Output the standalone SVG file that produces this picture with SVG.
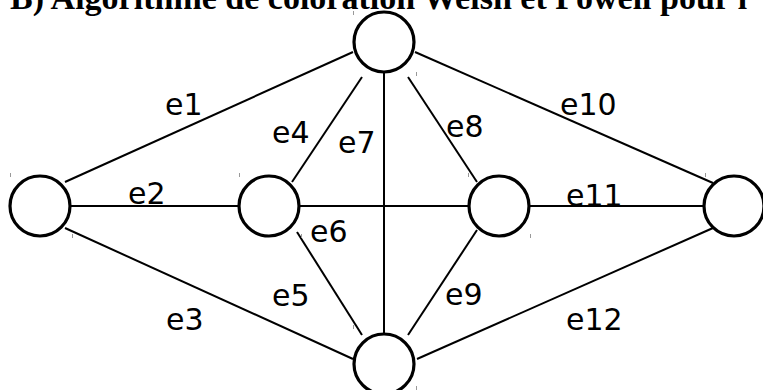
<svg xmlns="http://www.w3.org/2000/svg" width="763" height="390" viewBox="0 0 763 390">
<style>
.title{font-family:"Liberation Serif","Times New Roman",serif;font-weight:bold;font-size:34px;fill:#000}
.lbl{font-family:"DejaVu Sans","Liberation Sans",sans-serif;font-size:30px;fill:#000}
.edge{stroke:#000;stroke-width:2;fill:none}
.node{fill:#fff;stroke:#000;stroke-width:3.2}
.tick{stroke:#999;stroke-width:1}
</style>
<rect width="763" height="390" fill="#fff"/>
<text class="title" x="10" y="9">B) Algorithme de coloration Welsh et Powell pour l</text>
<g id="connectors">
<line class="edge" x1="65" y1="182" x2="353" y2="52"/>
<line class="edge" x1="71" y1="206" x2="238" y2="206"/>
<line class="edge" x1="65" y1="228" x2="353" y2="359"/>
<line class="edge" x1="292" y1="182" x2="362" y2="77"/>
<line class="edge" x1="297" y1="232" x2="362" y2="335"/>
<line class="edge" x1="300" y1="206" x2="468" y2="206"/>
<line class="edge" x1="384" y1="73" x2="384" y2="333"/>
<line class="edge" x1="408" y1="77" x2="477" y2="182"/>
<line class="edge" x1="477" y1="230" x2="408" y2="335"/>
<line class="edge" x1="415" y1="52" x2="713" y2="183"/>
<line class="edge" x1="530" y1="206" x2="703" y2="206"/>
<line class="edge" x1="417" y1="359" x2="713" y2="228"/>
<text class="lbl" x="165" y="115">e1</text>
<text class="lbl" x="128" y="204">e2</text>
<text class="lbl" x="166" y="330">e3</text>
<text class="lbl" x="272" y="143">e4</text>
<text class="lbl" x="272" y="306">e5</text>
<text class="lbl" x="310" y="242">e6</text>
<text class="lbl" x="338" y="153">e7</text>
<text class="lbl" x="446" y="137">e8</text>
<text class="lbl" x="445" y="305">e9</text>
<text class="lbl" x="560" y="115">e10</text>
<text class="lbl" x="566" y="206">e11</text>
<text class="lbl" x="566" y="330">e12</text>
</g>
<g id="n-left"><circle class="node" cx="40" cy="206" r="30"/></g>
<g id="n-midleft"><circle class="node" cx="269" cy="206" r="30"/></g>
<g id="n-midright"><circle class="node" cx="499" cy="206" r="30"/></g>
<g id="n-right"><circle class="node" cx="734" cy="206" r="30"/></g>
<g id="n-top"><circle class="node" cx="384" cy="42" r="30"/></g>
<g id="n-bottom"><circle class="node" cx="384" cy="364" r="30"/></g>
<g id="marks">
<line class="tick" x1="10.5" y1="173" x2="10.5" y2="177"/>
<line class="tick" x1="72.5" y1="234" x2="72.5" y2="238"/>
<line class="tick" x1="239.5" y1="173" x2="239.5" y2="177"/>
<line class="tick" x1="301.5" y1="234" x2="301.5" y2="238"/>
<line class="tick" x1="468.5" y1="173" x2="468.5" y2="177"/>
<line class="tick" x1="530.5" y1="234" x2="530.5" y2="238"/>
<line class="tick" x1="705.5" y1="173" x2="705.5" y2="177"/>
<line class="tick" x1="353.5" y1="11" x2="353.5" y2="15"/>
<line class="tick" x1="416.5" y1="72" x2="416.5" y2="76"/>
<line class="tick" x1="353.5" y1="325" x2="353.5" y2="329"/>
<line class="tick" x1="416.5" y1="386" x2="416.5" y2="390"/>
</g>
</svg>
